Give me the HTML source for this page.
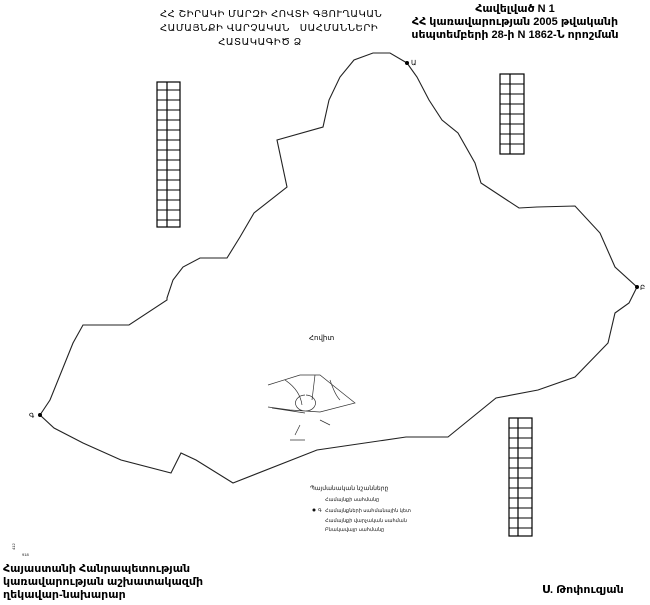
<!DOCTYPE html>
<html><head><meta charset="utf-8"><style>
body{margin:0;width:650px;height:605px;background:#fff;overflow:hidden;position:relative;font-family:"Liberation Sans","DejaVu Sans",sans-serif;}
.t{position:absolute;white-space:nowrap;color:#000;}
</style></head><body>
<div class="t" style="left:160px;top:8px;width:200px;text-align:center;font-size:10px;line-height:14px;letter-spacing:0.5px">ՀՀ ՇԻՐԱԿԻ ՄԱՐԶԻ ՀՈՎՏԻ ԳՅՈՒՂԱԿԱՆ<br>ՀԱՄԱՅՆՔԻ ՎԱՐՉԱԿԱՆ &nbsp; ՍԱՀՄԱՆՆԵՐԻ<br>ՀԱՏԱԿԱԳԻԾ Ձ</div>
<div class="t" style="left:395px;top:3px;width:240px;text-align:center;font-size:11px;font-weight:bold;line-height:13px">Հավելված N 1<br>ՀՀ կառավարության 2005 թվականի<br>սեպտեմբերի 28-ի N 1862-Ն որոշման</div>
<div class="t" style="left:3px;top:563px;font-size:11px;font-weight:bold;line-height:13px">Հայաստանի Հանրապետության<br>կառավարության աշխատակազմի<br>ղեկավար-նախարար</div>
<div class="t" style="left:542px;top:583px;font-size:11px;font-weight:bold">Ս. Թոփուզյան</div>
<div class="t" style="left:309px;top:334px;font-size:7px">Հովիտ</div>
<svg width="650" height="605" style="position:absolute;left:0;top:0">
<polyline fill="none" stroke="#222" stroke-width="1.1" points="407,63 417,77 429,100 442,120 458,133 475,163 481,183 519,208 537,207 575,206 600,233 615,267 637,287 629,303 615,313 608,343 575,377 538,390 496,398 448,437 406,437 317,450 233,483 196,460 181,453 171,473 121,460 83,443 54,428 40,415 50,400 73,343 83,325 129,325 167,300 167,298 173,280 183,267 200,258 227,258 240,237 254,213 287,187 277,140 323,127 329,100 340,77 354,60 373,53 390,53 407,63"/>
<circle cx="407" cy="63" r="2" fill="#000"/><circle cx="637" cy="287" r="2" fill="#000"/><circle cx="40" cy="415" r="2" fill="#000"/>
<text x="411" y="65" font-size="7" font-family="Liberation Sans">Ա</text>
<text x="640" y="290" font-size="7" font-family="Liberation Sans">Բ</text>
<text x="29" y="418" font-size="7" font-family="Liberation Sans">Գ</text>
<g fill="none" stroke="#000" stroke-width="1.2">
<rect x="157" y="82" width="23" height="145"/><line x1="167" y1="82" x2="167" y2="227"/>
<rect x="500" y="74" width="24" height="80"/><line x1="510" y1="74" x2="510" y2="154"/>
<rect x="509" y="418" width="23" height="118"/><line x1="518" y1="418" x2="518" y2="536"/>
</g>
<g fill="none" stroke="#333" stroke-width="0.7">
<path d="M268,385 L300,375 L320,375 L345,395 L355,403 L320,412 L290,410 L268,407 M272,408 L305,413 M305,395 A10,8 0 1,0 306,395 M285,380 Q300,390 302,405 M315,375 L312,400 M330,380 Q335,395 340,400 M300,425 L295,435 M320,420 L330,425 M290,440 L305,440"/>
</g>
<g stroke="#000" stroke-width="1">
<line x1="157" y1="90" x2="180" y2="90"/><line x1="157" y1="100" x2="180" y2="100"/><line x1="157" y1="110" x2="180" y2="110"/><line x1="157" y1="120" x2="180" y2="120"/><line x1="157" y1="130" x2="180" y2="130"/><line x1="157" y1="140" x2="180" y2="140"/><line x1="157" y1="150" x2="180" y2="150"/><line x1="157" y1="160" x2="180" y2="160"/><line x1="157" y1="170" x2="180" y2="170"/><line x1="157" y1="180" x2="180" y2="180"/><line x1="157" y1="190" x2="180" y2="190"/><line x1="157" y1="200" x2="180" y2="200"/><line x1="157" y1="210" x2="180" y2="210"/><line x1="157" y1="220" x2="180" y2="220"/>
<line x1="500" y1="84" x2="524" y2="84"/><line x1="500" y1="94" x2="524" y2="94"/><line x1="500" y1="104" x2="524" y2="104"/><line x1="500" y1="114" x2="524" y2="114"/><line x1="500" y1="124" x2="524" y2="124"/><line x1="500" y1="134" x2="524" y2="134"/><line x1="500" y1="144" x2="524" y2="144"/>
<line x1="509" y1="428" x2="532" y2="428"/><line x1="509" y1="438" x2="532" y2="438"/><line x1="509" y1="448" x2="532" y2="448"/><line x1="509" y1="458" x2="532" y2="458"/><line x1="509" y1="468" x2="532" y2="468"/><line x1="509" y1="478" x2="532" y2="478"/><line x1="509" y1="488" x2="532" y2="488"/><line x1="509" y1="498" x2="532" y2="498"/><line x1="509" y1="508" x2="532" y2="508"/><line x1="509" y1="518" x2="532" y2="518"/><line x1="509" y1="528" x2="532" y2="528"/>
</g>
<g font-family="Liberation Sans" font-size="5" fill="#111">
<text x="310" y="490" font-size="6">Պայմանական նշանները</text>
<text x="325" y="501">Համայնքի սահմանը</text>
<circle cx="314" cy="510" r="1.5"/><text x="318" y="512">Գ</text><text x="325" y="512">Համայնքների սահմանային կետ</text>
<text x="325" y="522">Համայնքի վարչական սահման</text>
<text x="325" y="531">Բնակավայր սահմանը</text>
<text x="15" y="550" font-size="4" transform="rotate(-90 15 550)">412</text>
<text x="22" y="556" font-size="4">918</text>
</g>
</svg>
</body></html>
